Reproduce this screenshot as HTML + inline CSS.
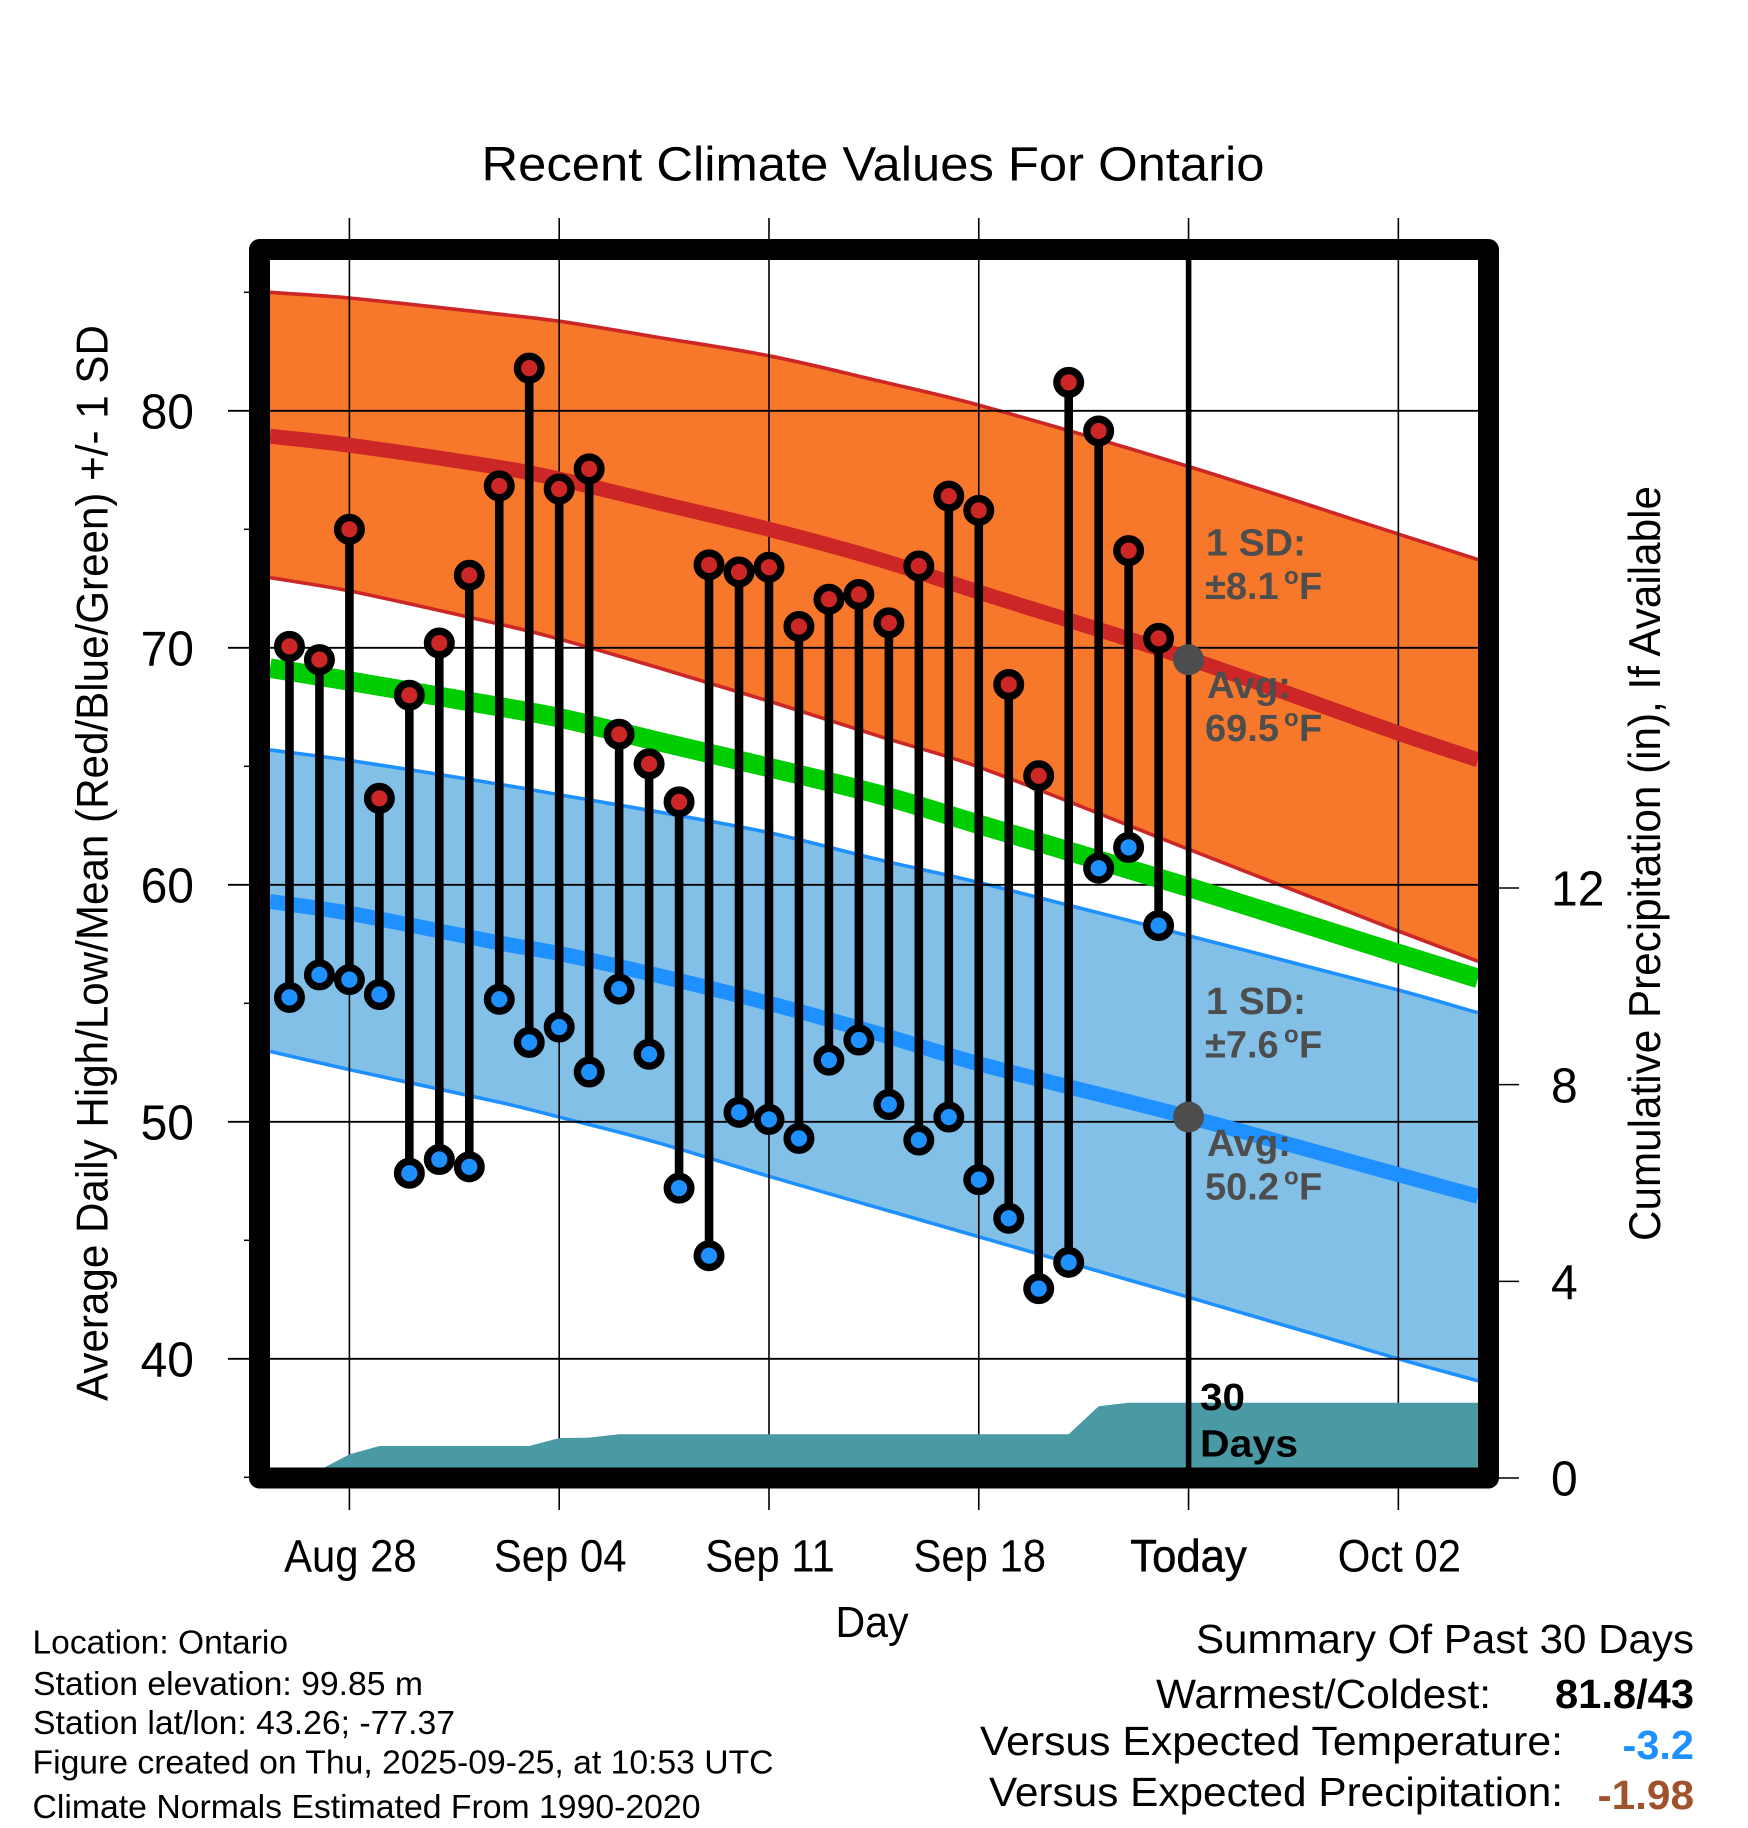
<!DOCTYPE html>
<html lang="en">
<head>
<meta charset="utf-8">
<title>Recent Climate Values For Ontario</title>
<style>
html,body{margin:0;padding:0;background:#fff;}
svg{display:block;font-family:"Liberation Sans",sans-serif;}
</style>
</head>
<body>
<svg id="chart" xmlns="http://www.w3.org/2000/svg" width="1748" height="1828" viewBox="0 0 1748 1828">
<rect x="0" y="0" width="1748" height="1828" fill="#ffffff"/>
<g id="bands"></g>
<g id="grid"></g>
<g id="precip"></g>
<g id="lines"></g>
<rect x="259.5" y="249.5" width="1229" height="1228.5" fill="none" stroke="#000" stroke-width="21" stroke-linejoin="round"/>
<line x1="1188.6" y1="255" x2="1188.6" y2="1470" stroke="#000" stroke-width="5.6"/>
<g id="ticks"></g>
<g id="records"></g>
<g id="dots"></g>

<text x="873" y="180.5" text-anchor="middle" font-size="48" textLength="783" lengthAdjust="spacingAndGlyphs">Recent Climate Values For Ontario</text>
<text transform="translate(107.7 863) rotate(-90)" text-anchor="middle" font-size="44.5" textLength="1076" lengthAdjust="spacingAndGlyphs">Average Daily High/Low/Mean (Red/Blue/Green) +/- 1 SD</text>
<text transform="translate(1660 863.5) rotate(-90)" text-anchor="middle" font-size="44.5" textLength="755" lengthAdjust="spacingAndGlyphs">Cumulative Precipitation (in), If Available</text>
<text x="872" y="1637" text-anchor="middle" font-size="44" textLength="73" lengthAdjust="spacingAndGlyphs">Day</text>

<g font-weight="bold" fill="#4d4d4d" font-size="38">
<text x="1206" y="555.5" textLength="100" lengthAdjust="spacingAndGlyphs">1 SD:</text>
<text y="599"><tspan x="1205">±8.1</tspan><tspan x="1284" y="584" font-size="24">o</tspan><tspan x="1299" y="599">F</tspan></text>
<text x="1207" y="698" textLength="84" lengthAdjust="spacingAndGlyphs">Avg:</text>
<text y="741"><tspan x="1205">69.5</tspan><tspan x="1284" y="726" font-size="24">o</tspan><tspan x="1299" y="741">F</tspan></text>
</g>
<g font-weight="bold" fill="#4d4d4d" font-size="38">
<text x="1206" y="1014" textLength="100" lengthAdjust="spacingAndGlyphs">1 SD:</text>
<text y="1057.5"><tspan x="1205">±7.6</tspan><tspan x="1284" y="1042.5" font-size="24">o</tspan><tspan x="1299" y="1057.5">F</tspan></text>
<text x="1207" y="1156" textLength="84" lengthAdjust="spacingAndGlyphs">Avg:</text>
<text y="1199.5"><tspan x="1205">50.2</tspan><tspan x="1284" y="1184.5" font-size="24">o</tspan><tspan x="1299" y="1199.5">F</tspan></text>
</g>
<text x="1200" y="1410" font-size="38" font-weight="bold" textLength="45" lengthAdjust="spacingAndGlyphs">30</text>
<text x="1200" y="1456.7" font-size="38" font-weight="bold" textLength="98" lengthAdjust="spacingAndGlyphs">Days</text>

<g font-size="33">
<text x="32.5" y="1653.5" textLength="255.5" lengthAdjust="spacingAndGlyphs">Location: Ontario</text>
<text x="33" y="1695" textLength="390" lengthAdjust="spacingAndGlyphs">Station elevation: 99.85 m</text>
<text x="33" y="1734" textLength="422" lengthAdjust="spacingAndGlyphs">Station lat/lon: 43.26; -77.37</text>
<text x="32.5" y="1773.5" textLength="741" lengthAdjust="spacingAndGlyphs">Figure created on Thu, 2025-09-25, at 10:53 UTC</text>
<text x="32.5" y="1818" textLength="668" lengthAdjust="spacingAndGlyphs">Climate Normals Estimated From 1990-2020</text>
</g>
<g font-size="41">
<text x="1196" y="1653" textLength="498" lengthAdjust="spacingAndGlyphs">Summary Of Past 30 Days</text>
<text x="1156" y="1708" textLength="335" lengthAdjust="spacingAndGlyphs">Warmest/Coldest:</text>
<text x="1555" y="1708" font-weight="bold" textLength="139" lengthAdjust="spacingAndGlyphs">81.8/43</text>
<text x="980" y="1755" textLength="583" lengthAdjust="spacingAndGlyphs">Versus Expected Temperature:</text>
<text x="1622.5" y="1759" font-weight="bold" fill="#1e90ff" textLength="71.5" lengthAdjust="spacingAndGlyphs">-3.2</text>
<text x="989" y="1806" textLength="574" lengthAdjust="spacingAndGlyphs">Versus Expected Precipitation:</text>
<text x="1597.5" y="1809" font-weight="bold" fill="#a0522d" textLength="96.5" lengthAdjust="spacingAndGlyphs">-1.98</text>
</g>
</svg>
<script>
// Daily records (day offset from Aug 28)
var recordDays = [-2,-1,0,1,2,3,4,5,6,7,8,9,10,11,12,13,14,15,16,17,18,19,20,21,22,23,24,25,26,27];
var dailyHighs = [70.06,69.5,75.0,63.65,68.0,70.2,73.06,76.83,81.8,76.7,77.55,66.35,65.1,63.5,73.5,73.2,73.4,70.9,72.05,72.25,71.05,73.45,76.4,75.8,68.45,64.6,81.2,79.15,74.1,70.4];
var dailyLows = [55.25,56.2,56.0,55.37,47.83,48.41,48.1,55.17,53.35,54.0,52.1,55.6,52.85,47.2,44.35,50.4,50.1,49.3,52.6,53.45,50.73,49.23,50.2,47.56,45.93,42.96,44.07,60.7,61.58,58.28];
// Cumulative precipitation (inches), then held flat to the plot edge
var precipDays = [-2,-1,0,1,6,7,8,9,24,25,26,37.66];
var precipValues = [0,0.16,0.48,0.65,0.65,0.81,0.82,0.89,0.89,1.46,1.53,1.53];
// Climate normals
var normalDays = [-2.65,0,5.2,7,10.2,14,17.7,21,28,35,37.66];
var highUpper = [85.0,84.76,84.05,83.78,83.12,82.32,81.25,80.24,77.65,74.8,73.72];
var highMean = [78.93,78.55,77.57,77.12,76.15,75.0,73.72,72.35,69.55,66.4,65.27];
var highLower = [72.96,72.4,70.94,70.37,69.2,67.75,66.26,64.97,61.5,58.05,56.77];
var dailyMean = [69.14,68.6,67.47,67.05,66.08,64.95,63.8,62.55,59.9,57.1,56.05];
var lowUpper = [65.69,65.25,64.2,63.8,63.1,62.2,61.05,60.1,57.85,55.56,54.6];
var lowMean = [59.3,58.8,57.5,57.1,56.2,55.0,53.7,52.45,50.2,47.77,46.85];
var lowLower = [52.97,52.2,50.77,50.2,49.15,47.7,46.35,45.15,42.6,40,39.07];
// Axis ticks
var xTickDays = [0,7,14,21,28,35];
var xTickLabels = ["Aug 28","Sep 04","Sep 11","Sep 18","Today","Oct 02"];
var yMajorTicks = [40,50,60,70,80];
var yMinorTicks = [35,45,55,65,75,85];
var precipTicks = [0,4,8,12];
// Today's normal values
var todayDay = 28;
var todayAverages = [69.5,50.2];

function xScale(d){ return 349.4 + d * 29.97; }
function yScale(v){ return 410.8 + (80 - v) * 23.7; }
function precipScale(p){ return 1478 - p * 49.17; }
function svgEl(tag, parentId){
  var el = document.createElementNS('http://www.w3.org/2000/svg', tag);
  document.getElementById(parentId).appendChild(el);
  return el;
}
function curvePoints(ys){
  var pts = [];
  for (var i = 0; i < normalDays.length; i++) {
    pts.push([xScale(normalDays[i]), yScale(ys[i])]);
  }
  return pts;
}
function smoothSegments(pts){
  var out = '';
  for (var i = 0; i < pts.length - 1; i++) {
    var p0 = pts[Math.max(i - 1, 0)], p1 = pts[i], p2 = pts[i + 1], p3 = pts[Math.min(i + 2, pts.length - 1)];
    var span = (p2[0] - p1[0]) / 3;
    var m1 = (p2[1] - p0[1]) / (p2[0] - p0[0]);
    var m2 = (p3[1] - p1[1]) / (p3[0] - p1[0]);
    out += ' C' + (p1[0] + span).toFixed(2) + ' ' + (p1[1] + m1 * span).toFixed(2) +
           ' ' + (p2[0] - span).toFixed(2) + ' ' + (p2[1] - m2 * span).toFixed(2) +
           ' ' + p2[0].toFixed(2) + ' ' + p2[1].toFixed(2);
  }
  return out;
}
function curveD(pts){
  return 'M' + pts[0][0].toFixed(2) + ' ' + pts[0][1].toFixed(2) + smoothSegments(pts);
}
function drawBand(upper, lower, fill, edge, name){
  var top = curvePoints(upper);
  var bot = curvePoints(lower);
  var rev = bot.slice().reverse();
  var band = svgEl('path', 'bands');
  
  
  band.setAttribute('d', curveD(top) + ' L' + rev[0][0].toFixed(2) + ' ' + rev[0][1].toFixed(2) + smoothSegments(rev) + ' Z');
  band.setAttribute('fill', fill);
  var upperEdge = svgEl('path', 'bands');
  
  
  upperEdge.setAttribute('d', curveD(top));
  upperEdge.setAttribute('fill', 'none');
  upperEdge.setAttribute('stroke', edge);
  upperEdge.setAttribute('stroke-width', '3.6');
  var lowerEdge = svgEl('path', 'bands');
  
  
  lowerEdge.setAttribute('d', curveD(bot));
  lowerEdge.setAttribute('fill', 'none');
  lowerEdge.setAttribute('stroke', edge);
  lowerEdge.setAttribute('stroke-width', '3.6');
}
function drawLine(values, color, width, name){
  var line = svgEl('path', 'lines');
  
  
  line.setAttribute('d', curveD(curvePoints(values)));
  line.setAttribute('fill', 'none');
  line.setAttribute('stroke', color);
  line.setAttribute('stroke-width', width);
}
drawBand(highUpper, highLower, '#f7782b', '#cd2626', 'high-normal');
drawBand(lowUpper, lowLower, '#83c0e8', '#1e90ff', 'low-normal');

// Grid
xTickDays.forEach(function(d){
  var g = svgEl('line', 'grid');
  
  
  g.setAttribute('x1', xScale(d)); g.setAttribute('x2', xScale(d));
  g.setAttribute('y1', 218); g.setAttribute('y2', 1510);
  g.setAttribute('stroke', '#000'); g.setAttribute('stroke-width', 1.6);
});
yMajorTicks.forEach(function(v){
  var g = svgEl('line', 'grid');
  
  
  g.setAttribute('x1', 228); g.setAttribute('x2', 1480);
  g.setAttribute('y1', yScale(v)); g.setAttribute('y2', yScale(v));
  g.setAttribute('stroke', '#000'); g.setAttribute('stroke-width', 1.8);
});

// Precipitation area
(function(){
  var pts = [xScale(precipDays[0]).toFixed(2) + ',' + precipScale(0)];
  for (var i = 0; i < precipDays.length; i++) {
    pts.push(xScale(precipDays[i]).toFixed(2) + ',' + precipScale(precipValues[i]).toFixed(2));
  }
  pts.push(xScale(precipDays[precipDays.length - 1]).toFixed(2) + ',' + precipScale(0));
  var area = svgEl('polygon', 'precip');
  
  
  area.setAttribute('points', pts.join(' '));
  area.setAttribute('fill', '#4a9aa5');
})();

drawLine(highMean, '#cd2626', 15, 'average-high-line');
drawLine(dailyMean, '#00cd00', 19.5, 'average-mean-line');
drawLine(lowMean, '#1e90ff', 15, 'average-low-line');

// Ticks and tick labels
function tickLabel(str, x, y, anchor, size, squeeze, name){
  var t = svgEl('text', 'ticks');
  
  
  t.setAttribute('x', x); t.setAttribute('y', y);
  t.setAttribute('text-anchor', anchor);
  t.setAttribute('font-size', size);
  t.textContent = str;
  t.setAttribute('textLength', (t.getComputedTextLength() * squeeze).toFixed(1));
  t.setAttribute('lengthAdjust', 'spacingAndGlyphs');
  return t;
}
yMajorTicks.forEach(function(v){
  tickLabel(String(v), 194, yScale(v) + 17.7, 'end', 49, 0.98, 'y-tick-label');
});
yMinorTicks.forEach(function(v){
  var m = svgEl('line', 'ticks');
  
  
  m.setAttribute('x1', 244); m.setAttribute('x2', 250);
  m.setAttribute('y1', yScale(v)); m.setAttribute('y2', yScale(v));
  m.setAttribute('stroke', '#000'); m.setAttribute('stroke-width', 1.5);
});
precipTicks.forEach(function(p){
  var m = svgEl('line', 'ticks');
  
  
  m.setAttribute('x1', 1498); m.setAttribute('x2', 1519);
  m.setAttribute('y1', precipScale(p)); m.setAttribute('y2', precipScale(p));
  m.setAttribute('stroke', '#000'); m.setAttribute('stroke-width', 1.5);
  tickLabel(String(p), 1551, precipScale(p) + 17.7, 'start', 49, 0.98, 'precip-tick-label');
});
xTickDays.forEach(function(d, i){
  var isToday = d === todayDay;
  var t = tickLabel(xTickLabels[i], xScale(d) + (isToday ? 0 : 1), 1571.5, 'middle', 45, isToday ? 0.97 : 0.93, 'x-tick-label');
  if (isToday) {
    t.setAttribute('stroke', '#000');
    t.setAttribute('stroke-width', '0.5');
  }
});

// Daily high / low records
recordDays.forEach(function(d, i){
  var x = xScale(d);
  var stem = svgEl('line', 'records');
  
  
  stem.setAttribute('x1', x); stem.setAttribute('x2', x);
  stem.setAttribute('y1', yScale(dailyHighs[i])); stem.setAttribute('y2', yScale(dailyLows[i]));
  stem.setAttribute('stroke', '#000'); stem.setAttribute('stroke-width', 8.6);
  var hi = svgEl('circle', 'records');
  
  
  hi.setAttribute('cx', x); hi.setAttribute('cy', yScale(dailyHighs[i])); hi.setAttribute('r', 11.8);
  hi.setAttribute('fill', '#cd2626'); hi.setAttribute('stroke', '#000'); hi.setAttribute('stroke-width', 7.4);
  var lo = svgEl('circle', 'records');
  
  
  lo.setAttribute('cx', x); lo.setAttribute('cy', yScale(dailyLows[i])); lo.setAttribute('r', 11.8);
  lo.setAttribute('fill', '#1e90ff'); lo.setAttribute('stroke', '#000'); lo.setAttribute('stroke-width', 7.4);
});

// Today's average markers
todayAverages.forEach(function(v){
  var dot = svgEl('circle', 'dots');
  
  
  dot.setAttribute('cx', xScale(todayDay)); dot.setAttribute('cy', yScale(v)); dot.setAttribute('r', 15.5);
  dot.setAttribute('fill', '#4d4d4d');
});
</script>
</body>
</html>
